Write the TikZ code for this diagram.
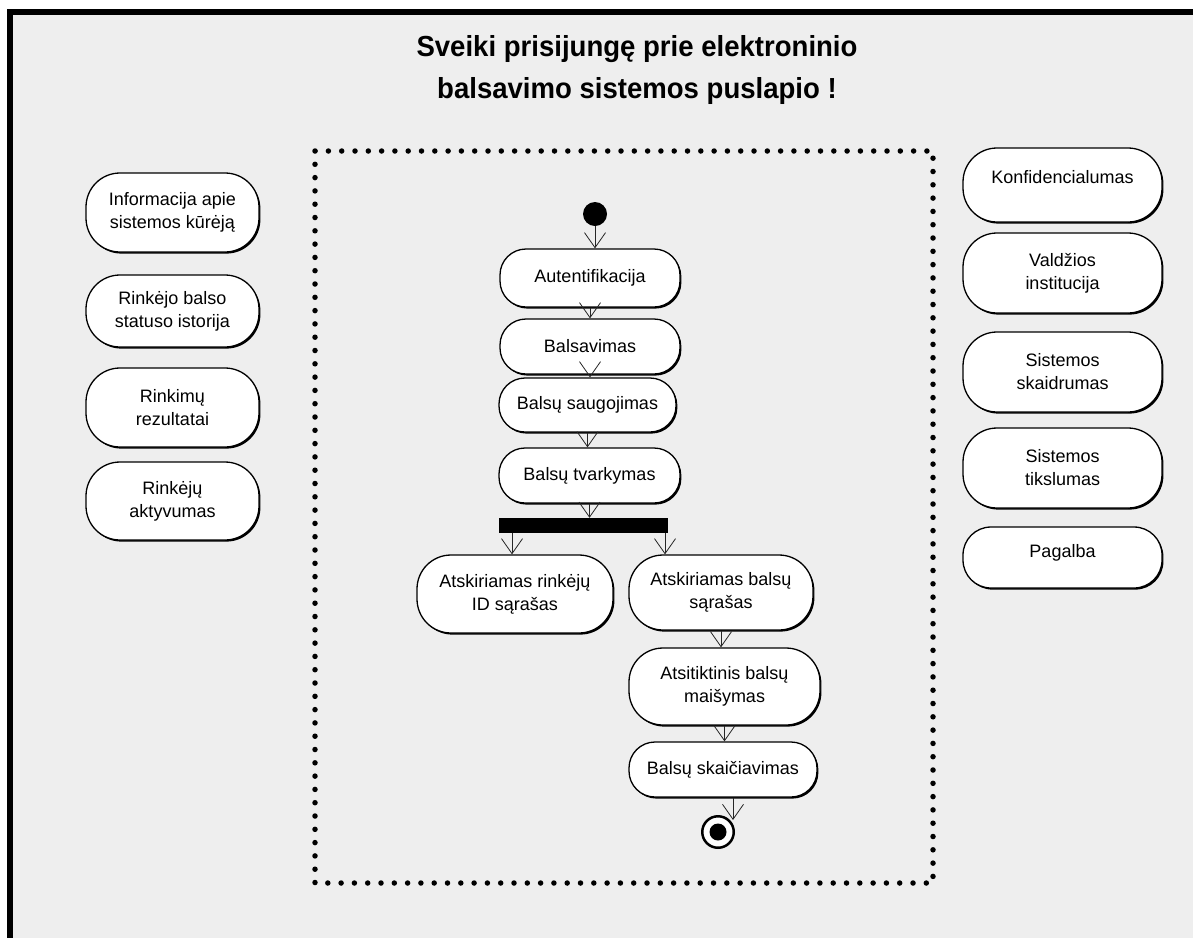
\documentclass[tikz,border=0pt]{standalone}
\usepackage{fontspec}
\setmainfont{Liberation Sans}
\usetikzlibrary{arrows.meta,shadows}
\definecolor{bg}{HTML}{EEEEEE}
\begin{document}
\begin{tikzpicture}[x=1pt,y=-1pt,
  act/.style={draw=black, line width=1.3pt, fill=white, rounded corners=26pt,
    align=center, font=\fontsize{18}{23}\selectfont, inner sep=0pt,
    drop shadow={shadow xshift=1.4pt,shadow yshift=-1.6pt,opacity=1,fill=black}},
  tall/.style={rounded corners=34pt},
  side/.style={act, tall, minimum width=173pt},
  right/.style={act, tall, minimum width=199pt},
  lbl/.style={font=\fontsize{18}{23}\selectfont, inner sep=0pt},
  arr/.style={-{Straight Barb[length=15pt,width=21pt]}, line width=0.8pt, draw=black!85},
  dotbox/.style={line width=5.5pt, line cap=round, dash pattern=on 0pt off 13.3pt}
]
\useasboundingbox (0,0) rectangle (1193,938);
\fill[white] (0,0) rectangle (1193,938);
\fill[black] (7,9) rectangle (1193,938);
\fill[bg] (13,15) rectangle (1193,938);

% title
\node[font=\bfseries\fontsize{29}{42}\selectfont, align=center, xscale=0.95, transform shape] (title) at (637,70)
  {Sveiki prisijungę prie elektroninio\\ balsavimo sistemos puslapio !};

% dotted frame
\draw[dotbox] (315,151) rectangle (933,883);

% left column
\node[side, minimum height=79pt] (info) at (172.5,212.5) {Informacija apie\\sistemos kūrėją};
\node[side, minimum height=72pt] (hist) at (172.5,311) {Rinkėjo balso\\statuso istorija};
\node[side, minimum height=79pt] (res) at (172.5,407.5) {Rinkimų\\rezultatai};
\node[side, minimum height=78pt] (actv) at (172.5,501) {Rinkėjų\\aktyvumas};

% right column
\node[right, minimum height=74pt] (konf) at (1062.5,185) {};
\node[lbl] (konft) at (1062.5,177) {Konfidencialumas};
\node[right, minimum height=80pt] (vald) at (1062.5,273) {Valdžios\\institucija};
\node[right, minimum height=80pt] (skaid) at (1062.5,372) {Sistemos\\skaidrumas};
\node[right, minimum height=80pt] (tiksl) at (1062.5,468) {Sistemos\\tikslumas};
\node[right, rounded corners=28pt, minimum height=61pt] (pag) at (1062.5,557.5) {};
\node[lbl] (pagt) at (1062.5,553) {Pagalba};

% activity flow
\node[circle, fill=black, minimum size=24pt, inner sep=0pt] (start) at (595,214) {};
\node[act, minimum width=180pt, minimum height=58pt] (auth) at (590,278) {Autentifikacija};
\node[act, minimum width=180pt, minimum height=55pt] (balsav) at (590,346.5) {Balsavimas};
\node[act, minimum width=177pt, minimum height=54pt] (saug) at (587.5,405) {Balsų saugojimas};
\node[act, minimum width=181pt, minimum height=55pt] (tvark) at (589.5,475.5) {Balsų tvarkymas};
\node[fill=black, minimum width=169pt, minimum height=15pt, inner sep=0pt] (bar) at (583.5,525.5) {};
\node[act, tall, minimum width=196pt, minimum height=78pt] (idlist) at (515,594) {Atskiriamas rinkėjų\\ID sąrašas};
\node[act, tall, minimum width=184pt, minimum height=75pt] (vlist) at (721,592.5) {Atskiriamas balsų\\sąrašas};
\node[act, tall, minimum width=191pt, minimum height=77pt] (mix) at (724.5,686.5) {Atsitiktinis balsų\\maišymas};
\node[act, minimum width=188pt, minimum height=55pt] (count) at (723,769.5) {Balsų skaičiavimas};
\node[circle, draw=black, line width=2.5pt, fill=white, minimum size=31.5pt, inner sep=0pt] (endc) at (718,832) {};
\node[circle, fill=black, minimum size=17pt, inner sep=0pt] (endi) at (endc) {};

% connectors
\draw[arr] (start.south) -- (start.south |- auth.north);
\draw[arr] (auth.south) -- (balsav.north);
\draw[arr] (balsav.south) -- (balsav.south |- saug.north);
\draw[arr] (saug.south) -- (saug.south |- tvark.north);
\draw[arr] (tvark.south) -- (tvark.south |- bar.north);
\coordinate (bL) at (512,533);
\coordinate (bR) at (665,533);
\draw[arr] (bL) -- (bL |- idlist.north);
\draw[arr] (bR) -- (bR |- vlist.north);
\draw[arr] (vlist.south) -- (vlist.south |- mix.north);
\draw[arr] (mix.south) -- (mix.south |- count.north);
\coordinate (cE) at ([xshift=10pt]count.south);
\draw[arr] (cE) -- (cE |- endc.45);
\end{tikzpicture}
\end{document}
